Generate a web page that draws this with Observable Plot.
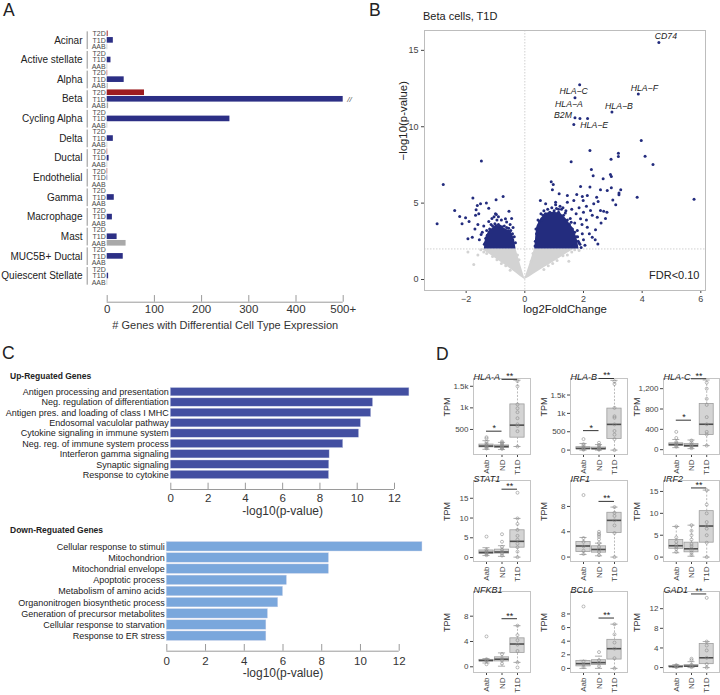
<!DOCTYPE html>
<html><head><meta charset="utf-8">
<script src="https://cdn.jsdelivr.net/npm/d3@7"></script>
<script src="https://cdn.jsdelivr.net/npm/@observablehq/plot@0.6"></script>
<style>
body{margin:0;background:#fff;}
#root{position:relative;width:720px;height:695px;overflow:hidden;background:#fff;}
#root svg{position:absolute;overflow:visible;}
</style></head><body><div id="root"></div>
<script>
// ---------------- DATA ----------------
// Panel A
const cellTypes = ["Acinar","Active stellate","Alpha","Beta","Cycling Alpha","Delta","Ductal","Endothelial","Gamma","Macrophage","Mast","MUC5B+ Ductal","Quiescent Stellate"];
const conditions = ["T2D","T1D","AAB"];
const genesT2D = [2,0,1,79,0,0,1,1,0,0,0,0,0];
const genesT1D = [13,8,36,500,260,13,4,1,15,11,21,34,3];
const genesAAB = [1,1,2,3,1,1,1,0,0,0,40,0,1];
const countTicks = [0,100,200,300,400,500];
const countTickLabels = ["0","100","200","300","400","500+"];

// Panel B (volcano)
const volcanoTicksX = [-2,0,2,4,6];
const volcanoTicksY = [0,5,10,15];
const fdrCut = 2.0;
const labeledGenes = ["CD74","HLA\u2212C","HLA\u2212A","HLA\u2212F","HLA\u2212B","B2M","HLA\u2212E"];
const labeledFC = [4.57,1.87,1.71,3.87,2.97,1.71,2.14];
const labeledP  = [15.52,12.75,11.9,12.14,10.96,10.59,10.54];
const sigFC = [1.88,1.67,3.97,2.22,3.19,3.19,2.94,4.1,-1.48,1.58,4.37,2.27,2.33,2.92,2.67,2.95,0.9,0.97,0.94,1.9,2.22,2.58,1.17,1.45,1.77,1.96,2.13,2.45,2.81,2.95,3.21,3.27,3.21,3.83,5.77,0.53,0.71,1.05,1.45,1.67,1.99,2.35,2.24,2.58,2.47,2.69,1.9,2.13,2.41,2.49,2.3,1.96,1.79,
  -2.78,-2.99,-2.39,-2.22,-2.14,-2.02,-1.94,-1.79,-1.77,-1.66,-1.62,-1.51,-1.31,-1.57,-1.68,-1.6,-1.49,-1.4,-1.23,-0.98,-0.74,-1.23,-1.12,-0.83,-0.54,-0.66,-0.62,
  1.6,1.75,1.85,2.0,2.1,1.7,1.55,2.2,2.0,1.85,2.6,2.75,1.3,1.15,0.55,0.45,0.38,1.4,2.3,1.95,1.8,2.05,1.65,2.4,2.1,2.5,3.0,2.8,3.1,
  -1.0,-0.9,-0.8,-1.3,-1.45,-1.15,-0.45,-0.5,-0.4,-1.55,-1.35,-1.7,-1.9];
const sigP = [10.54,10.15,9.1,8.45,8.27,8.05,7.88,8.07,7.75,7.71,7.53,7.2,6.79,6.88,6.59,6.75,6.4,6.22,5.87,6.09,6.05,5.87,5.61,5.5,5.57,5.44,5.5,5.39,5.83,6.0,5.67,5.87,5.54,5.39,5.26,5.17,4.96,5.06,5.06,5.17,5.17,4.96,4.52,4.52,4.08,4.47,3.97,3.42,3.25,2.33,2.77,2.99,3.2,
  6.22,3.65,4.52,4.13,3.65,4.04,2.66,2.77,5.33,4.56,4.85,4.96,5.0,4.3,4.2,3.6,2.95,3.5,4.67,5.22,5.44,3.8,4.0,3.34,4.47,3.97,3.76,
  4.6,4.3,4.7,4.4,3.9,3.7,4.0,3.0,2.6,2.4,3.7,4.0,4.7,4.6,4.3,3.9,3.3,4.5,4.2,3.6,2.8,2.25,2.2,2.6,4.8,5.1,5.2,4.4,4.9,
  4.3,4.1,3.9,3.2,3.1,3.6,4.0,3.6,3.4,2.6,2.4,3.3,3.8];
// significant genes lying on the rim of the two dense clouds
const rimFC = [0.36,0.4,0.44,0.5,0.58,0.62,0.7,0.78,0.85,0.92,1.0,1.08,1.15,1.25,1.32,1.38,1.45,1.52,1.58,1.62,1.7,1.75,1.82,1.88,1.92,0.35,0.65,1.05,1.2,
  -1.38,-1.33,-1.28,-1.2,-1.1,-1.02,-0.95,-0.9,-0.85,-0.78,-0.7,-0.62,-0.55,-0.48,-0.42,-0.36,-0.32,-0.97,-1.05];
const rimP = [2.5,3.0,3.4,3.8,3.9,4.2,4.3,4.6,4.4,4.7,4.5,4.65,4.4,4.6,4.2,4.35,3.9,3.6,3.75,3.3,3.1,2.8,2.5,2.3,2.1,2.2,4.5,4.9,4.8,
  2.3,2.7,2.9,3.3,3.5,3.65,3.9,3.6,3.5,3.45,3.5,3.4,3.35,3.2,3.0,2.8,2.4,4.25,4.1];
const coreRightFC  = [0.34,0.38,0.42,0.55,0.76,0.95,1.21,1.4,1.55,1.67,1.79,1.85];
const coreRightTop = [2.0,3.0,3.5,4.0,4.35,4.4,4.35,4.0,3.6,3.3,2.6,2.0];
const coreLeftFC   = [-1.38,-1.34,-1.23,-1.1,-0.96,-0.83,-0.7,-0.6,-0.5,-0.43,-0.35,-0.3];
const coreLeftTop  = [2.0,2.7,3.15,3.35,3.6,3.4,3.35,3.25,3.2,3.0,2.6,2.0];
// non-significant cloud (two wings of the V)
const nsFC   = [-1.48,-1.2,-0.9,-0.6,-0.3,-0.15,0,0.15,0.33,0.6,0.9,1.2,1.45,1.7];
const nsLow  = [2.0,1.65,1.25,0.85,0.42,0.2,0,0.15,0.38,0.7,1.05,1.4,1.72,2.0];
const nsHigh = [2.0,2.0,2.0,2.0,2.0,1.0,0.05,0.9,2.0,2.0,2.0,2.0,2.0,2.0];
const nsDotFC = [-1.94,-1.74,-1.6,-1.5,-1.4,-1.3,-1.1,-0.95,-0.8,-0.65,-0.5,1.7,1.6,1.45,1.3,1.1,0.95,0.8,0.65,-0.2,-0.25,0.22,0.28,1.85,1.5];
const nsDotP  = [1.8,0.98,1.6,1.95,1.8,1.7,1.5,1.3,1.05,0.9,0.6,1.95,1.8,1.6,1.55,1.25,1.05,0.9,0.65,1.3,1.6,1.2,1.7,1.9,1.2];

// Panel C
const upTerms = ["Antigen processing and presentation","Neg. regulation of differentiation","Antigen pres. and loading of class I MHC","Endosomal vaculolar pathway","Cytokine signaling in immune system","Neg. reg. of immune system process","Interferon gamma signaling","Synaptic signaling","Response to cytokine"];
const upValues = [12.8,10.85,10.75,10.2,10.1,9.25,8.52,8.5,8.49];
const downTerms = ["Cellular response to stimuli","Mitochondrion","Mitochondrial envelope","Apoptotic process","Metabolism of amino acids","Organonitrogen biosynthetic process","Generation of precursor metabolites","Cellular response to starvation","Response to ER stress"];
const downValues = [13.2,8.37,8.37,6.2,6.0,5.75,5.22,5.14,5.14];
const pTicks = [0,2,4,6,8,10,12];

// Panel D : [lower whisker, Q1, median, Q3, upper whisker] for Aab, ND, T1D
const boxGroups = ["Aab","ND","T1D"];
const geneNames = ["HLA-A","HLA-B","HLA-C","STAT1","IRF1","IRF2","NFKB1","BCL6","GAD1"];
const statsHLAA = [[40,85,115,150,240],[35,75,105,130,200],[105,310,600,1080,1640]];
const statsHLAB = [[0,20,45,80,180],[0,18,40,70,150],[0,300,700,1130,1900]];
const statsHLAC = [[40,75,100,125,200],[20,55,80,110,190],[80,290,500,900,1370]];
const statsSTAT1 = [[0.5,0.9,1.3,1.8,2.5],[0.3,1.0,1.4,2.0,3.0],[0.1,2.5,4.1,6.9,9.9]];
const statsIRF1 = [[0.4,0.8,1.75,2.4,3.1],[0.2,0.7,1.2,1.7,2.2],[0,3.8,5.8,7.0,7.9]];
const statsIRF2 = [[1.0,1.9,2.6,3.9,7.0],[0.2,1.1,1.9,3.3,7.3],[0,3.3,7.1,10.5,15.3]];
const statsNFKB1 = [[0.6,0.85,1.0,1.1,1.3],[0.1,0.85,1.2,1.5,2.2],[0.7,2.2,3.6,4.5,6.5]];
const statsBCL6 = [[0,0.3,0.7,1.1,1.2],[0,0.5,0.85,1.2,1.8],[0,1.3,2.9,4.2,6.5]];
const statsGAD1 = [[0,0.1,0.2,0.35,0.6],[0,0.15,0.3,0.5,1.2],[0,0.7,2.0,4.8,5.3]];
// individual samples (Aab, ND, T1D)
const ptsHLAA = [[60,80,100,120,140,170,210,290,320],[50,70,90,110,130,160,190,220],[105,460,580,620,760,900,990,1080,1500,1620]];
const ptsHLAB = [[10,30,50,70,120,160,300],[10,25,45,60,100,140,200],[0,300,420,520,700,880,920,1150,1800,1870]];
const ptsHLAC = [[60,80,100,120,150,230,350],[30,60,80,100,140,180],[80,300,350,500,640,880,1000,1200,1320]];
const ptsSTAT1 = [[0.6,1.0,1.3,1.6,2.0,5.3],[0.5,1.0,1.5,2.0,2.7,4.0,5.9],[0.1,1.5,2.6,3.5,4.5,5.5,7,8.5,9.9,16.4]];
const ptsIRF1 = [[0.5,1.0,1.7,2.4,3.0,9.8],[0.3,0.8,1.2,1.6,2.2,2.8,3.2,3.5,3.7,4.0],[0,3.8,5.0,5.8,6.5,7.0,7.9]];
const ptsIRF2 = [[1.2,1.9,2.3,2.8,3.5,4.5,7.0],[0.5,1,1.5,2,2.5,3,4,5,6,7.3],[0,3.3,5,6.5,7.1,8,10,12,15.3]];
const ptsNFKB1 = [[0.4,0.9,1.0,1.2,4.8],[0.5,1.0,1.3,2.0],[-0.1,0.7,2.5,3.5,4.2,5,6.5]];
const ptsBCL6 = [[0.2,0.6,1.0,9.1],[0.3,0.8,1.2,2.4],[0,1.5,2.9,3.8,5,6.5]];
const ptsGAD1 = [[0.1,0.2,0.3,0.5],[0.1,0.3,0.6,1.5,1.8],[0,0.7,2.0,3.5,4.5,5.3,14.2]];
const ticksHLAA = [500,1000,1500], labelsHLAA = ["500","1k","1.5k"];
const ticksHLAB = [0,500,1000,1500], labelsHLAB = ["0","500","1k","1.5k"];
const ticksHLAC = [0,400,800,1200];
const ticks5 = [0,5,10,15];
const ticks4 = [0,4,8];
const ticksBCL6 = [0,2,4,6,8];
const ticksGAD1 = [0,4,8,12];
const domains = [[-80,1680],[-120,1950],[-95,1400],[-1,19.5],[-0.7,12.1],[-1,17.5],[-0.9,11.9],[-0.6,11.3],[-1,15.5]];
// y of significance bars: [Aab vs ND "*", ND vs T1D "**"]
const sigBars = [[460,1660],[530,1950],[580,1395],[null,17.3],[null,8.8],[null,15.8],[null,7.6],[null,7.4],[null,15.0]];

// ---------------- LAYOUT HELPERS ----------------
const root = document.getElementById("root");
const FONT = "'Liberation Sans', Arial, Helvetica, sans-serif";
function put(node, left, top){ node.style.left = left+"px"; node.style.top = top+"px"; root.appendChild(node); }
const baseStyle = {fontFamily: FONT, fontSize: "10px", background: "none", overflow: "visible", color: "#444"};

// ---------------- PANEL A ----------------
(function(){
  const rows = [];
  cellTypes.forEach((c, g) => {
    [genesT2D[g], genesT1D[g], genesAAB[g]].forEach((v, s) => rows.push({cell: c, cond: conditions[s], r: g*3+s, v}));
  });
  const groups = cellTypes.map((c, g) => ({c, g}));
  const yMax = 41.0;
  const colors = {T2D: "#9c1c20", T1D: "#2c2f85", AAB: "#a9a9a9"};
  const svg = Plot.plot({
    width: 360, height: 340,
    marginLeft: 106.7, marginRight: 17.3, marginTop: 30.06, marginBottom: 38.3,
    style: baseStyle,
    x: {domain: [0, 500], axis: null},
    y: {domain: [-0.5, yMax], reverse: true, axis: null},
    marks: [
      Plot.rect(rows.filter(d => d.v > 0), {x1: 0, x2: "v", y1: d => d.r - 0.43, y2: d => d.r + 0.43, fill: d => colors[d.cond]}),
      Plot.text(rows, {x: 0, y: "r", text: "cond", dx: -1.5, textAnchor: "end", fontSize: 7, fill: "#4a4a4a"}),
      Plot.ruleX(groups, {x: 0, y1: d => d.g*3 - 0.3, y2: d => d.g*3 + 2.4, dx: -20, stroke: "#777", strokeWidth: 0.8}),
      Plot.text(groups, {x: 0, y: d => d.g*3 + 1, text: "c", dx: -24.7, textAnchor: "end", fontSize: 10, fill: "#222"}),
      Plot.text(rows.filter(d => d.v >= 500), {x: "v", y: "r", text: () => "//", dx: 4, textAnchor: "start", fontSize: 8, fill: "#555", fontStyle: "italic"}),
      Plot.ruleY([yMax], {x1: 0, x2: 500, stroke: "#9a9a9a"}),
      Plot.ruleX(countTicks, {x: d => d, insetTop: 271.6 - 6.6, stroke: "#9a9a9a"}),
      Plot.text(countTicks, {x: d => d, text: (d, i) => countTickLabels[i], frameAnchor: "bottom", dy: 11, fontSize: 11.5, fill: "#333"}),
      Plot.text(["# Genes with Differential Cell Type Expression"], {frameAnchor: "bottom", dy: 26.6, fontSize: 11, fill: "#333"})
    ]
  });
  put(svg, 0, 0);
})();

// ---------------- PANEL B ----------------
(function(){
  const sig = sigFC.map((x, i) => ({x, y: sigP[i]}));
  const rim = rimFC.map((x, i) => ({x, y: rimP[i]}));
  const lab = labeledGenes.map((t, i) => ({t, x: labeledFC[i], y: labeledP[i]}));
  const coreR = coreRightFC.map((x, i) => ({x, y2: coreRightTop[i]}));
  const coreL = coreLeftFC.map((x, i) => ({x, y2: coreLeftTop[i]}));
  const ns = nsFC.map((x, i) => ({x, y1: nsLow[i], y2: nsHigh[i]}));
  const nsDots = nsDotFC.map((x, i) => ({x, y: nsDotP[i]}));
  // label offsets (px) from each labelled point, as placed by the repel layout
  const labOffsets = [[7, -6], [-6, 6.5], [-6, 6.4], [6, -6], [7, -5.5], [-12, -2.6], [6.6, 6.7]];
  const navy = "#232c7e";
  const svg = Plot.plot({
    width: 360, height: 320,
    marginLeft: 64, marginRight: 15, marginTop: 30, marginBottom: 30,
    style: baseStyle,
    x: {domain: [-3.42, 6.16], ticks: volcanoTicksX, tickSize: 3, tickPadding: 2, label: null},
    y: {domain: [-0.72, 16.3], ticks: volcanoTicksY, tickSize: 3, tickPadding: 3, label: null},
    marks: [
      Plot.areaY(ns, {x: "x", y1: "y1", y2: "y2", fill: "#d3d3d3", curve: "linear"}),
      Plot.dot(nsDots, {x: "x", y: "y", r: 1.5, fill: "#d3d3d3"}),
      Plot.ruleX([0], {stroke: "#d0d0d0", strokeDasharray: "1.5,1.5"}),
      Plot.ruleY([fdrCut], {stroke: "#d0d0d0", strokeDasharray: "1.5,1.5"}),
      Plot.areaY(coreR, {x: "x", y1: fdrCut, y2: "y2", fill: navy, curve: "linear"}),
      Plot.areaY(coreL, {x: "x", y1: fdrCut, y2: "y2", fill: navy, curve: "linear"}),
      Plot.dot(rim, {x: "x", y: "y", r: 1.5, fill: navy}),
      Plot.dot(sig, {x: "x", y: "y", r: 1.5, fill: navy}),
      Plot.dot(lab, {x: "x", y: "y", r: 1.5, fill: navy}),
      ...lab.map((d, i) => Plot.text([d], {x: "x", y: "y", text: "t", dx: labOffsets[i][0], dy: labOffsets[i][1], fontSize: 8.7, fontStyle: "italic", fill: "#222"})),
      Plot.frame({stroke: "#bdbdbd"}),
      Plot.text(["FDR<0.10"], {frameAnchor: "bottom-right", dx: -6, dy: -12, textAnchor: "end", fontSize: 11, fill: "#222"}),
      Plot.text(["log2FoldChange"], {frameAnchor: "bottom", dy: 22.5, fontSize: 11.4, fill: "#222"}),
      Plot.text(["\u2212log10(p-value)"], {frameAnchor: "left", dx: -21, rotate: -90, fontSize: 11.4, fill: "#222"})
    ]
  });
  svg.style.fontSize = "9px";
  put(svg, 360, 0);
})();

// ---------------- PANEL C ----------------
function barPanel(terms, values, color, opt){
  const data = terms.map((t, i) => ({t, i, v: values[i]}));
  const frameH = opt.axisY - opt.top;
  const yMax = frameH / opt.step - 0.5;
  return Plot.plot({
    width: 430, height: opt.height,
    marginLeft: opt.x0, marginRight: 430 - opt.x12, marginTop: opt.top, marginBottom: opt.height - opt.axisY,
    style: baseStyle,
    x: {domain: [0, 12], axis: null},
    y: {domain: [-0.5, yMax], reverse: true, axis: null},
    marks: [
      Plot.rect(data, {x1: 0, x2: "v", y1: d => d.i - opt.half, y2: d => d.i + opt.half, fill: color, stroke: "#c9cfe6", strokeWidth: 0.4}),
      Plot.text(data, {x: 0, y: "i", text: "t", dx: -2, textAnchor: "end", fontSize: 9, fill: "#222"}),
      Plot.ruleY([yMax], {x1: 0, x2: 12, stroke: "#9a9a9a"}),
      Plot.ruleX(pTicks, {x: d => d, insetTop: frameH - opt.tick, stroke: "#9a9a9a"}),
      Plot.text(pTicks, {x: d => d, frameAnchor: "bottom", dy: opt.labDy, fontSize: 11.5, fill: "#333"}),
      Plot.text(["-log10(p-value)"], {frameAnchor: "bottom", dy: opt.titleDy, fontSize: 12, fill: "#333"})
    ]
  });
}
put(barPanel(upTerms, upValues, "#434fa1", {height: 180, top: 46.5, axisY: 149, step: 10.35, half: 0.4, x0: 170.3, x12: 394, tick: 6.3, labDy: 12.7, titleDy: 25.5}), 0, 340);
put(barPanel(downTerms, downValues, "#7aa7dc", {height: 175, top: 20.7, axisY: 130.7, step: 11.175, half: 0.42, x0: 166.3, x12: 398.7, tick: 6.7, labDy: 13.3, titleDy: 26}), 0, 520);

// ---------------- PANEL D ----------------
const boxPanels = [
  {stats: statsHLAA, pts: ptsHLAA, ticks: ticksHLAA, labels: labelsHLAA},
  {stats: statsHLAB, pts: ptsHLAB, ticks: ticksHLAB, labels: labelsHLAB},
  {stats: statsHLAC, pts: ptsHLAC, ticks: ticksHLAC},
  {stats: statsSTAT1, pts: ptsSTAT1, ticks: ticks5},
  {stats: statsIRF1, pts: ptsIRF1, ticks: ticks4},
  {stats: statsIRF2, pts: ptsIRF2, ticks: ticks5},
  {stats: statsNFKB1, pts: ptsNFKB1, ticks: ticks4},
  {stats: statsBCL6, pts: ptsBCL6, ticks: ticksBCL6},
  {stats: statsGAD1, pts: ptsGAD1, ticks: ticksGAD1}
];
const colFrames = [[473,530],[570,627],[663,719]];
const rowFrames = [[378,454],[480,561],[591,672]];
boxPanels.forEach((p, k) => {
  const [fx0, fx1] = colFrames[k % 3], [fy0, fy1] = rowFrames[Math.floor(k / 3)];
  const mL = 40, mT = 16, mR = 3, mB = 30;
  const rows = p.stats.map((s, i) => ({g: i + 1, lo: s[0], q1: s[1], med: s[2], q3: s[3], hi: s[4]}));
  const dots = p.pts.flatMap((a, i) => a.map(v => ({g: i + 1, v})));
  const sb = sigBars[k];
  const sig = [];
  if (sb[0] != null) sig.push({x1: 1, x2: 2, y: sb[0], t: "*"});
  if (sb[1] != null) sig.push({x1: 2, x2: 3, y: sb[1], t: "**"});
  const w = 0.46, cap = 0.23;
  const svg = Plot.plot({
    width: fx1 - fx0 + mL + mR, height: fy1 - fy0 + mT + mB,
    marginLeft: mL, marginRight: mR, marginTop: mT, marginBottom: mB,
    style: {...baseStyle, fontSize: "8px"},
    x: {domain: [0.16, 3.84], ticks: [1, 2, 3], tickFormat: i => boxGroups[i - 1], tickRotate: -90, tickSize: 3, tickPadding: 2, label: null},
    y: {domain: domains[k], ticks: p.ticks, tickFormat: d => p.labels ? p.labels[p.ticks.indexOf(d)] : d, tickSize: 3, tickPadding: 2, label: null},
    marks: [
      Plot.frame({stroke: "#c4c4c4"}),
      Plot.ruleX(rows, {x: "g", y1: "lo", y2: "q1", stroke: "#a8a8a8", strokeDasharray: "2,1.5", strokeWidth: 0.8}),
      Plot.ruleX(rows, {x: "g", y1: "q3", y2: "hi", stroke: "#a8a8a8", strokeDasharray: "2,1.5", strokeWidth: 0.8}),
      Plot.ruleY(rows, {y: "lo", x1: d => d.g - cap, x2: d => d.g + cap, stroke: "#999", strokeWidth: 0.8}),
      Plot.ruleY(rows, {y: "hi", x1: d => d.g - cap, x2: d => d.g + cap, stroke: "#999", strokeWidth: 0.8}),
      Plot.rect(rows, {x1: d => d.g - w, x2: d => d.g + w, y1: "q1", y2: "q3", fill: "#d4d4d4", stroke: "#9e9e9e", strokeWidth: 0.8}),
      Plot.ruleY(rows, {y: "med", x1: d => d.g - w, x2: d => d.g + w, stroke: "#4d4d4d", strokeWidth: 1.6}),
      Plot.dot(dots, {x: "g", y: "v", r: 1.5, stroke: "#8c8c8c", fill: "none", strokeWidth: 0.6}),
      Plot.ruleY(sig, {y: "y", x1: "x1", x2: "x2", stroke: "#333", strokeWidth: 1}),
      Plot.text(sig, {x: d => (d.x1 + d.x2) / 2, y: "y", text: "t", dy: -3, fontSize: 9, fill: "#222"}),
      Plot.text([geneNames[k]], {frameAnchor: "top-left", dy: -5, textAnchor: "start", fontSize: 9, fontStyle: "italic", fill: "#222"}),
      Plot.text(["TPM"], {frameAnchor: "left", dx: -26, rotate: -90, fontSize: 9, fill: "#333"})
    ]
  });
  put(svg, fx0 - mL, fy0 - mT);
});

// ---------------- PANEL LETTERS & HEADINGS ----------------
const overlay = d3.create("svg").attr("width", 720).attr("height", 695).style("left", "0px").style("top", "0px").style("pointer-events", "none");
const heads = [
  {t: "A", x: 3, y: 15.5, s: 17.5, w: "normal"},
  {t: "B", x: 369, y: 15.5, s: 17.5, w: "normal"},
  {t: "C", x: 2, y: 358.5, s: 17.5, w: "normal"},
  {t: "D", x: 436, y: 359.5, s: 17.5, w: "normal"},
  {t: "Beta cells, T1D", x: 423, y: 20, s: 11, w: "normal"},
  {t: "Up-Reguated Genes", x: 10, y: 378.6, s: 8.5, w: "bold"},
  {t: "Down-Reguated Genes", x: 10, y: 533, s: 8.5, w: "bold"}
];
overlay.selectAll("text").data(heads).join("text")
  .attr("x", d => d.x).attr("y", d => d.y).text(d => d.t)
  .attr("font-family", FONT).attr("font-size", d => d.s).attr("font-weight", d => d.w).attr("fill", "#222");
root.appendChild(overlay.node());
</script></body></html>
